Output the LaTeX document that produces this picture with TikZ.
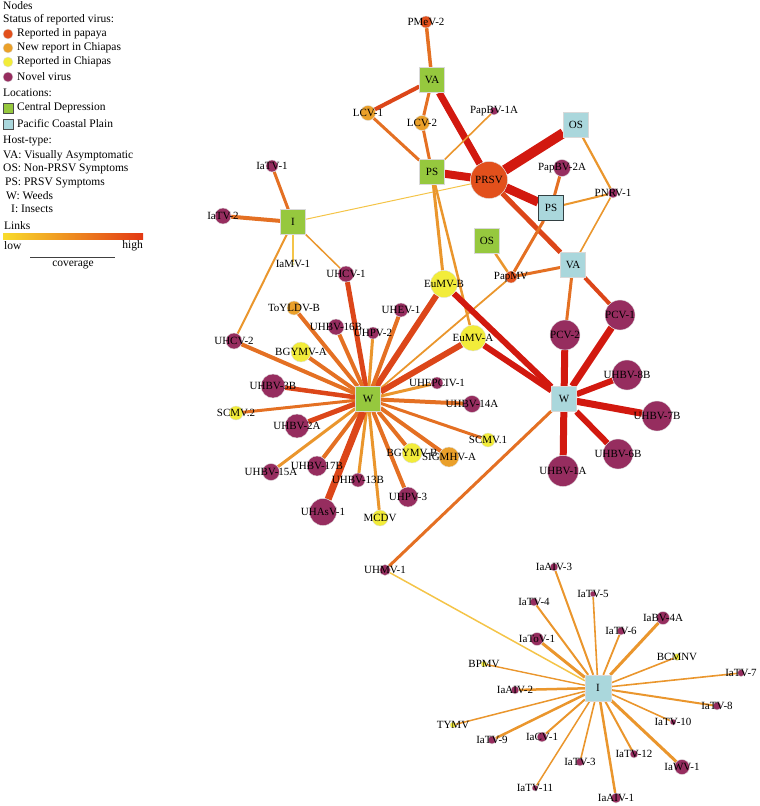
\documentclass[tikz,border=0pt]{standalone}
\usepackage{fontspec}
\setmainfont{Liberation Serif}
\usetikzlibrary{backgrounds}
\definecolor{cpap}{RGB}{226,80,28}
\definecolor{cnew}{RGB}{234,160,42}
\definecolor{cchi}{RGB}{242,236,58}
\definecolor{cnov}{RGB}{150,45,95}
\definecolor{cgrn}{RGB}{150,200,62}
\definecolor{cblu}{RGB}{170,215,220}
\definecolor{c1}{RGB}{244,196,72}
\definecolor{c2}{RGB}{234,150,45}
\definecolor{c3}{RGB}{228,112,35}
\definecolor{c4}{RGB}{220,70,25}
\definecolor{c5}{RGB}{210,25,15}
\newcommand\labfont{\fontsize{11}{12}\selectfont}
\newcommand\legfont{\fontsize{11.5}{13}\selectfont}
\newcommand\virnode[5]{\node[#1, minimum size=#2pt, label={[labsty]center:#5}] (#3) at (#4) {};}
\tikzset{
  labsty/.style={font=\labfont, inner sep=0pt, text=black},
  vnode/.style={circle, draw=white!75!gray, line width=0.4pt, inner sep=0pt},
  pap/.style={vnode, fill=cpap},
  nrep/.style={vnode, fill=cnew},
  chi/.style={vnode, fill=cchi},
  nov/.style={vnode, fill=cnov},
  sqg/.style={rectangle, fill=cgrn, draw=white!70!gray, line width=0.4pt, minimum size=25pt, inner sep=0pt, font=\labfont},
  sqb/.style={rectangle, fill=cblu, draw=white!70!gray, line width=0.4pt, minimum size=25pt, inner sep=0pt, font=\labfont},
  ed/.style 2 args={draw=#1, line width=#2},
  legtxt/.style={anchor=west, font=\legfont, inner sep=0pt},
}
\begin{document}
\begin{tikzpicture}[x=1pt,y=-1pt]
\useasboundingbox (0,0) rectangle (760,806);
% ---------------- legend
\node[legtxt] (lgNodes) at (3,6) {Nodes};
\node[legtxt] (lgStatus) at (3,20) {Status of reported virus:};
\node[vnode, fill=cpap, minimum size=10pt] (lgc1) at (8,34) {};
\node[legtxt] (lgt1) at (17,34) {Reported in papaya};
\node[vnode, fill=cnew, minimum size=10pt] (lgc2) at (8,48) {};
\node[legtxt] (lgt2) at (17,48) {New report in Chiapas};
\node[vnode, fill=cchi, minimum size=10pt] (lgc3) at (8,62) {};
\node[legtxt] (lgt3) at (17,62) {Reported in Chiapas};
\node[vnode, fill=cnov, minimum size=10pt] (lgc4) at (8,77) {};
\node[legtxt] (lgt4) at (17,77) {Novel virus};
\node[legtxt] (lgLoc) at (3,93) {Locations:};
\node[rectangle, fill=cgrn, draw=black!70, line width=0.5pt, minimum size=10pt, inner sep=0pt] (lgs1) at (8,108) {};
\node[legtxt] (lgs1t) at (17,108) {Central Depression};
\node[rectangle, fill=cblu, draw=black!70, line width=0.5pt, minimum size=10pt, inner sep=0pt] (lgs2) at (8,124) {};
\node[legtxt] (lgs2t) at (17,124) {Pacific Coastal Plain};
\node[legtxt] (lgHost) at (3,141) {Host-type:};
\node[legtxt] (lgh1) at (3,156) {VA: Visually Asymptomatic};
\node[legtxt] (lgh2) at (3,169) {OS: Non-PRSV Symptoms};
\node[legtxt] (lgh3) at (5,183) {PS: PRSV Symptoms};
\node[legtxt] (lgh4) at (6,196) {W: Weeds};
\node[legtxt] (lgh5) at (11,209) {I: Insects};
\node[legtxt] (lgLinks) at (4,226) {Links};
\shade[left color=c1!60!yellow, right color=c4!80!red] (3,233) rectangle (143,239);
\node[legtxt] (lglow) at (4,246) {low};
\node[anchor=east, font=\legfont, inner sep=0pt] (lghigh) at (143,246) {high};
\coordinate (cvA) at (30,257);
\coordinate (cvB) at (115,257);
\draw[black!75, line width=1pt] (cvA) -- (cvB);
\node[font=\legfont, inner sep=0pt] (lgcov) at (73,265) {coverage};

% ---------------- squares
\node[sqg] (vaG) at (432,80) {VA};
\node[sqg] (psG) at (432,172) {PS};
\node[sqg] (iG) at (293,222) {I};
\node[sqg] (osG) at (487,241) {OS};
\node[sqg] (wG) at (368,399) {W};
\node[sqb] (osB) at (576,125) {OS};
\node[sqb, draw=black!70!cblu, line width=0.8pt] (psB) at (551,208) {PS};
\node[sqb] (vaB) at (573,265) {VA};
\node[sqb] (wB) at (564,399) {W};
\node[sqb, minimum size=26pt] (iB) at (598,688) {I};

% ---------------- virus nodes
\virnode{pap}{37}{prsv}{489,180}{PRSV}
\virnode{pap}{12}{pmev}{426,22}{PMeV-2}
\virnode{nrep}{15}{lcvA}{368,113}{LCV-1}
\virnode{nrep}{15}{lcvB}{422,123}{LCV-2}
\virnode{nov}{8}{papbvA}{494,111}{PapBV-1A}
\virnode{nov}{17}{papbvB}{562,168}{PapBV-2A}
\virnode{nov}{10}{pnrv}{613,193}{PNRV-1}
\virnode{pap}{12}{papmv}{511,277}{PapMV}
\virnode{chi}{27}{eumvB}{444,284}{EuMV-B}
\virnode{chi}{26}{eumvA}{473,338}{EuMV-A}
\virnode{nov}{30}{pcvA}{620,315}{PCV-1}
\virnode{nov}{30}{pcvB}{565,335}{PCV-2}
\virnode{nov}{30}{uhbvEB}{627,375}{UHBV-8B}
\virnode{nov}{30}{uhbvSB}{657,416}{UHBV-7B}
\virnode{nov}{30}{uhbvXB}{618,454}{UHBV-6B}
\virnode{nov}{31}{uhbvOA}{563,471}{UHBV-1A}
\virnode{nov}{12}{iatvA}{272,166}{IaTV-1}
\virnode{nov}{16}{iatvB}{223,216}{IaTV-2}
\virnode{chi}{3}{iamv}{293,264}{IaMV-1}
\virnode{nov}{16}{uhcvA}{346,274}{UHCV-1}
\virnode{nrep}{14}{toyldv}{294,308}{ToYLDV-B}
\virnode{nov}{16}{uhbvSXB}{336,327}{UHBV-16B}
\virnode{nov}{12}{uhpvB}{373,333}{UHPV-2}
\virnode{nov}{14}{uhev}{401,310}{UHEV-1}
\virnode{nov}{16}{uhcvB}{234,341}{UHCV-2}
\virnode{chi}{20}{bgymvA}{301,352}{BGYMV-A}
\virnode{nov}{24}{uhbvTB}{273,386}{UHBV-3B}
\virnode{chi}{14}{scmvB}{236,413}{SCMV.2}
\virnode{nov}{24}{uhbvTA}{297,426}{UHBV-2A}
\virnode{nov}{12}{uhepciv}{437,383}{UHEPCIV-1}
\virnode{nov}{17}{uhbvFA}{472,404}{UHBV-14A}
\virnode{chi}{14}{scmvA}{488,440}{SCMV.1}
\virnode{chi}{20}{bgymvB}{412,453}{BGYMV-B}
\virnode{nrep}{20}{sigmhv}{449,457}{SIGMHV-A}
\virnode{nov}{17}{uhbvFFA}{271,472}{UHBV-15A}
\virnode{nov}{20}{uhbvSSB}{317,466}{UHBV-17B}
\virnode{nov}{14}{uhbvTTB}{358,480}{UHBV-13B}
\virnode{nov}{20}{uhpvC}{408,497}{UHPV-3}
\virnode{nov}{27}{uhasv}{323,512}{UHAsV-1}
\virnode{chi}{16}{mcdv}{380,518}{MCDV}
\virnode{nov}{11}{uhmv}{385,570}{UHMV-1}
% insects
\virnode{nov}{8}{iaaivC}{554,567}{IaAIV-3}
\virnode{nov}{6}{iatvE}{593,594}{IaTV-5}
\virnode{nov}{8}{iatvD}{534,602}{IaTV-4}
\virnode{nov}{13}{iabv}{663,618}{IaBV-4A}
\virnode{nov}{8}{iatvF}{621,631}{IaTV-6}
\virnode{nov}{13}{iatov}{537,639}{IaToV-1}
\virnode{chi}{7}{bcmnv}{677,657}{BCMNV}
\virnode{chi}{6}{bpmv}{484,664}{BPMV}
\virnode{nov}{7}{iatvG}{741,673}{IaTV-7}
\virnode{nov}{8}{iaaivB}{515,690}{IaAIV-2}
\virnode{nov}{8}{iatvH}{717,706}{IaTV-8}
\virnode{nov}{6}{iatvJ}{673,722}{IaTV-10}
\virnode{chi}{6}{tymv}{453,725}{TYMV}
\virnode{nov}{8}{iatvI}{492,740}{IaTV-9}
\virnode{nov}{10}{iacv}{542,737}{IaCV-1}
\virnode{nov}{8}{iatvL}{634,754}{IaTV-12}
\virnode{nov}{8}{iatvC}{580,762}{IaTV-3}
\virnode{nov}{15}{iawv}{682,767}{IaWV-1}
\virnode{nov}{6}{iatvK}{535,788}{IaTV-11}
\virnode{nov}{10}{iaaivA}{616,798}{IaAIV-1}

% ---------------- edges
\begin{scope}[on background layer]
% top cluster
\draw[ed={c3}{3.5pt}] (pmev) -- (vaG);
\draw[ed={c4}{4pt}] (vaG) -- (lcvA);
\draw[ed={c3}{3pt}] (vaG) -- (lcvB);
\draw[ed={c5}{7pt}] (vaG) -- (prsv);
\draw[ed={c3}{3pt}] (lcvA) -- (psG);
\draw[ed={c3}{3pt}] (lcvB) -- (psG);
\draw[ed={c2}{1.6pt}] (papbvA) -- (psG);
\draw[ed={c5}{8pt}] (psG) -- (prsv);
\draw[ed={c5}{10pt}] (prsv) -- (osB);
\draw[ed={c5}{9pt}] (prsv) -- (psB);
\draw[ed={c4}{5pt}] (prsv) -- (vaB);
\draw[ed={c1}{1pt}] (iG) -- (prsv);
\draw[ed={c2}{2.2pt}] (osB) -- (pnrv);
\draw[ed={c2}{2pt}] (pnrv) -- (psB);
\draw[ed={c2}{1.6pt}] (pnrv) -- (vaB);
\draw[ed={c3}{3pt}] (papbvB) -- (psB);
\draw[ed={c3}{3pt}] (psB) -- (papmv);
\draw[ed={c2}{2.5pt}] (osG) -- (papmv);
\draw[ed={c3}{3pt}] (papmv) -- (vaB);
\draw[ed={c2}{1.8pt}] (papmv) -- (wG);
\draw[ed={c3}{3pt}] (vaB) -- (pcvB);
\draw[ed={c4}{4pt}] (vaB) -- (pcvA);
\draw[ed={c2}{3pt}] (psG) -- (eumvB);
\draw[ed={c2}{2.5pt}] (psG) -- (eumvA);
% W blue
\draw[ed={c5}{6pt}] (eumvB) -- (wB);
\draw[ed={c5}{6pt}] (eumvA) -- (wB);
\draw[ed={c5}{7pt}] (wB) -- (pcvB);
\draw[ed={c5}{7pt}] (wB) -- (pcvA);
\draw[ed={c5}{6pt}] (wB) -- (uhbvEB);
\draw[ed={c5}{7pt}] (wB) -- (uhbvSB);
\draw[ed={c5}{6pt}] (wB) -- (uhbvXB);
\draw[ed={c5}{7pt}] (wB) -- (uhbvOA);
\draw[ed={c3}{3pt}] (wB) -- (uhmv);
% I green
\draw[ed={c3}{3pt}] (iG) -- (iatvA);
\draw[ed={c3}{4pt}] (iG) -- (iatvB);
\draw[ed={c1}{1.2pt}] (iG) -- (iamv);
\draw[ed={c2}{1.5pt}] (iG) -- (uhcvA);
\draw[ed={c2}{2pt}] (iG) -- (uhcvB);
% W green
\draw[ed={c4}{6pt}] (eumvB) -- (wG);
\draw[ed={c4}{6pt}] (eumvA) -- (wG);
\draw[ed={c4}{5pt}] (wG) -- (uhcvA);
\draw[ed={c3}{4pt}] (wG) -- (toyldv);
\draw[ed={c3}{4pt}] (wG) -- (uhbvSXB);
\draw[ed={c2}{3pt}] (wG) -- (uhpvB);
\draw[ed={c3}{4pt}] (wG) -- (uhev);
\draw[ed={c3}{4pt}] (wG) -- (uhcvB);
\draw[ed={c3}{4pt}] (wG) -- (bgymvA);
\draw[ed={c4}{4.5pt}] (wG) -- (uhbvTB);
\draw[ed={c3}{3pt}] (wG) -- (scmvB);
\draw[ed={c4}{5pt}] (wG) -- (uhbvTA);
\draw[ed={c2}{3pt}] (wG) -- (uhepciv);
\draw[ed={c3}{4pt}] (wG) -- (uhbvFA);
\draw[ed={c3}{3pt}] (wG) -- (scmvA);
\draw[ed={c3}{4pt}] (wG) -- (bgymvB);
\draw[ed={c3}{4pt}] (wG) -- (sigmhv);
\draw[ed={c2}{3pt}] (wG) -- (uhbvFFA);
\draw[ed={c3}{4pt}] (wG) -- (uhbvSSB);
\draw[ed={c2}{3pt}] (wG) -- (uhbvTTB);
\draw[ed={c3}{4pt}] (wG) -- (uhpvC);
\draw[ed={c4}{7pt}] (wG) -- (uhasv);
\draw[ed={c2}{3pt}] (wG) -- (mcdv);
% I blue
\draw[ed={c1}{1.5pt}] (uhmv) -- (iB);
\draw[ed={c2}{2pt}] (iB) -- (iaaivC);
\draw[ed={c2}{1.6pt}] (iB) -- (iatvE);
\draw[ed={c2}{2pt}] (iB) -- (iatvD);
\draw[ed={c2}{3pt}] (iB) -- (iabv);
\draw[ed={c2}{1.8pt}] (iB) -- (iatvF);
\draw[ed={c2}{3pt}] (iB) -- (iatov);
\draw[ed={c2}{1.6pt}] (iB) -- (bcmnv);
\draw[ed={c2}{1.4pt}] (iB) -- (bpmv);
\draw[ed={c2}{1.6pt}] (iB) -- (iatvG);
\draw[ed={c2}{2.5pt}] (iB) -- (iaaivB);
\draw[ed={c2}{2pt}] (iB) -- (iatvH);
\draw[ed={c2}{1.6pt}] (iB) -- (iatvJ);
\draw[ed={c2}{1.5pt}] (iB) -- (tymv);
\draw[ed={c2}{2.5pt}] (iB) -- (iatvI);
\draw[ed={c2}{2pt}] (iB) -- (iacv);
\draw[ed={c2}{2pt}] (iB) -- (iatvL);
\draw[ed={c2}{1.6pt}] (iB) -- (iatvC);
\draw[ed={c2}{3pt}] (iB) -- (iawv);
\draw[ed={c2}{1.5pt}] (iB) -- (iatvK);
\draw[ed={c2}{2.5pt}] (iB) -- (iaaivA);
\end{scope}
\end{tikzpicture}
\end{document}
